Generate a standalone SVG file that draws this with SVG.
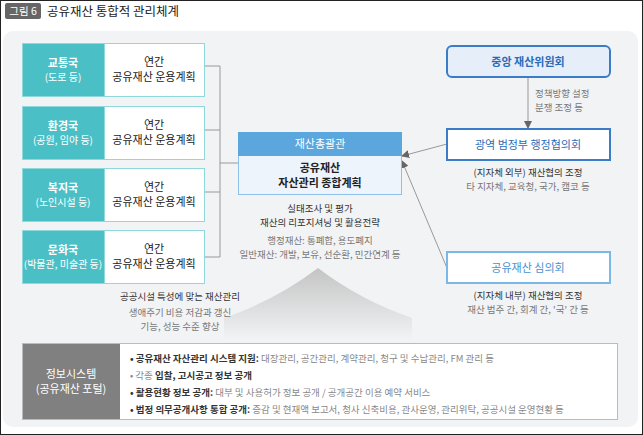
<svg xmlns="http://www.w3.org/2000/svg" width="643" height="435" viewBox="0 0 643 435">
<defs>
<style>
text{font-family:"Noto Sans CJK KR","Noto Sans",sans-serif;}
.t{fill:#fff;font-size:11px;text-anchor:middle;font-weight:bold}
.ts{fill:#fff;font-size:10px;text-anchor:middle}
.tw{fill:#fff;font-size:11px;text-anchor:middle}
.d{fill:#222;font-size:11px;text-anchor:middle}
.db{fill:#222;font-size:11px;text-anchor:middle;font-weight:bold}
.s{fill:#777;font-size:9.5px;text-anchor:middle}
.sl{fill:#777;font-size:9.5px}
.sd{fill:#333;font-size:9.5px;text-anchor:middle}
.teal{fill:#4bbfc6;stroke:#8fd8dc}
.wb{fill:#fff;stroke:#8fd8dc}
.bt{fill:#2a6cb8;font-size:11px;text-anchor:middle}
.btb{fill:#2a6cb8;font-size:11px;text-anchor:middle;font-weight:bold}
.ln{stroke:#999;fill:none;stroke-width:1}
.bl{fill:#333;font-size:9.5px}
.bg{fill:#888;font-weight:normal}
.bb{font-weight:bold}
</style>
<marker id="ar" markerWidth="8" markerHeight="8" refX="7" refY="4" orient="auto" markerUnits="userSpaceOnUse"><path d="M0,0 L8,4 L0,8 z" fill="#666"/></marker>
<linearGradient id="ag" x1="0" y1="0" x2="0" y2="1"><stop offset="0" stop-color="#c4c4c4"/><stop offset="1" stop-color="#f2f3f5"/></linearGradient>
</defs>
<rect x="0.5" y="0.5" width="642" height="434" fill="#fff" stroke="#222"/>
<rect x="5" y="3" width="36" height="16" rx="2" fill="#666"/>
<text x="23" y="15" fill="#fff" font-size="10.5" text-anchor="middle">그림 6</text>
<text x="47" y="16" fill="#222" font-size="12.5">공유재산 통합적 관리체계</text>
<rect x="3" y="31" width="635" height="396" rx="10" fill="#f2f3f5"/>
<path d="M318,268 Q360,300 412,318 L412,340 L224,340 L224,318 Q276,300 318,268 Z" fill="url(#ag)"/>
<g id="connectors">
<path class="ln" d="M204,66 H220 V257 H204 M204,130 H220 M204,192 H220 M220,163 H238"/>
<path class="ln" d="M528,77 V128" marker-end="url(#ar)"/>
<path class="ln" d="M447,144 L402,156" marker-end="url(#ar)"/>
<path class="ln" d="M447,268 L402,161" marker-end="url(#ar)"/>
</g>
<g id="n1"><rect class="teal" x="22.5" y="43.5" width="82" height="53"/><rect class="wb" x="104.5" y="43.5" width="100" height="53"/>
<text class="t" x="63" y="67">교통국</text><text class="ts" x="63" y="81">(도로 등)</text>
<text class="d" x="154" y="66">연간</text><text class="d" x="154" y="81">공유재산 운용계획</text></g>
<g id="n2"><rect class="teal" x="22.5" y="106.5" width="82" height="53"/><rect class="wb" x="104.5" y="106.5" width="100" height="53"/>
<text class="t" x="63" y="130">환경국</text><text class="ts" x="63" y="144">(공원, 임야 등)</text>
<text class="d" x="154" y="129">연간</text><text class="d" x="154" y="144">공유재산 운용계획</text></g>
<g id="n3"><rect class="teal" x="22.5" y="168.5" width="82" height="53"/><rect class="wb" x="104.5" y="168.5" width="100" height="53"/>
<text class="t" x="63" y="192">복지국</text><text class="ts" x="63" y="206">(노인시설 등)</text>
<text class="d" x="154" y="191">연간</text><text class="d" x="154" y="206">공유재산 운용계획</text></g>
<g id="n4"><rect class="teal" x="22.5" y="230.5" width="82" height="53"/><rect class="wb" x="104.5" y="230.5" width="100" height="53"/>
<text class="t" x="63" y="254">문화국</text><text class="ts" x="63" y="268">(박물관, 미술관 등)</text>
<text class="d" x="154" y="253">연간</text><text class="d" x="154" y="268">공유재산 운용계획</text></g>
<g id="center">
<rect x="238.5" y="155.5" width="163" height="39" fill="#eef4fc" stroke="#8fc0ea"/>
<rect x="238" y="132" width="164" height="24" fill="#5ba6dd"/>
<text class="tw" x="320" y="148">재산총괄관</text>
<text class="db" x="320" y="172">공유재산</text><text class="db" x="320" y="187">자산관리 종합계획</text>
<text class="sd" x="320" y="212">실태조사 및 평가</text><text class="sd" x="320" y="226">재산의 리포지셔닝 및 활용전략</text>
<text class="s" x="320" y="244">행정재산: 통폐합, 용도폐지</text><text class="s" x="320" y="258">일반재산: 개발, 보유, 선순환, 민간연계 등</text>
</g>
<g id="leftnote"><text class="sd" x="180" y="300">공공시설 특성에 맞는 재산관리</text><text class="s" x="180" y="316">생애주기 비용 저감과 갱신</text><text class="s" x="180" y="330">기능, 성능 수준 향상</text></g>
<g id="central"><rect x="447" y="46" width="163" height="31" rx="5" fill="#e6eefa" stroke="#3a7cc8" stroke-width="2"/>
<text class="btb" x="528" y="66">중앙 재산위원회</text>
<text class="sl" x="535" y="97">정책방향 설정</text><text class="sl" x="535" y="111">분쟁 조정 등</text></g>
<g id="regional"><rect x="447" y="129" width="163" height="31" fill="#fff" stroke="#3a7cc8" stroke-width="2"/><text class="bt" x="528" y="149">광역 범정부 행정협의회</text>
<text class="sd" x="528" y="176">(지자체 외부) 재산협의 조정</text><text class="s" x="528" y="190">타 지자체, 교육청, 국가, 캠코 등</text></g>
<g id="council"><rect x="447" y="252" width="163" height="31" fill="#fff" stroke="#7ab8e8" stroke-width="2"/><text class="bt" x="528" y="272" style="fill:#4a90d0">공유재산 심의회</text>
<text class="sd" x="528" y="299">(지자체 내부) 재산협의 조정</text><text class="s" x="528" y="313">재산 범주 간, 회계 간, '국' 간 등</text></g>
<g id="info"><rect x="22.5" y="343.5" width="595" height="76" fill="#fff" stroke="#bbb"/><rect x="23" y="344" width="97" height="75" fill="#808080"/>
<text class="tw" x="71" y="378">정보시스템</text><text class="tw" x="71" y="393">(공유재산 포털)</text>
<text class="bl" x="130" y="362"><tspan class="bb">• 공유재산 자산관리 시스템 지원:</tspan><tspan class="bg"> 대장관리, 공간관리, 계약관리, 청구 및 수납관리, FM 관리 등</tspan></text>
<text class="bl" x="130" y="379"><tspan class="bg">• 각종 </tspan><tspan class="bb">입찰, 고시공고 정보 공개</tspan></text>
<text class="bl" x="130" y="396"><tspan class="bb">• 활용현황 정보 공개:</tspan><tspan class="bg"> 대부 및 사용허가 정보 공개 / 공개공간 이용 예약 서비스</tspan></text>
<text class="bl" x="130" y="413"><tspan class="bb">• 법정 의무공개사항 통합 공개:</tspan><tspan class="bg"> 증감 및 현재액 보고서, 청사 신축비용, 관사운영, 관리위탁, 공공시설 운영현황 등</tspan></text>
</g>
</svg>
